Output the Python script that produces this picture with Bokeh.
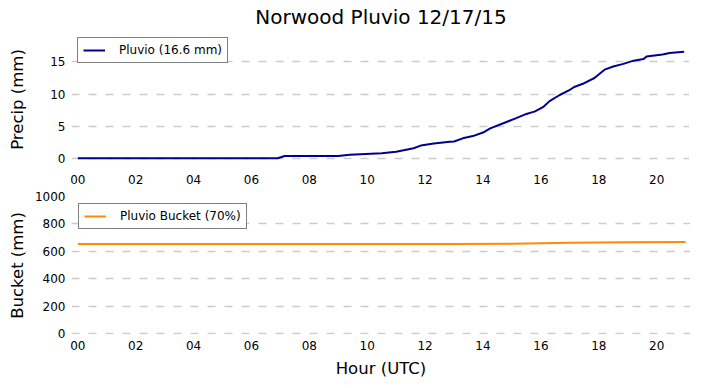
from bokeh.plotting import figure
from bokeh.layouts import column, row
from bokeh.models import FixedTicker, Range1d, Legend, LegendItem, Spacer
from bokeh.embed import file_html
from bokeh.resources import INLINE

# ---- data ----
precip_hours = [0, 6.9, 7.15, 9.0, 9.4, 10.5, 11.0, 11.6, 11.85, 12.3, 12.85, 13.0,
                13.3, 13.65, 14.0, 14.25, 14.7, 15.15, 15.5, 15.8, 16.1, 16.3, 16.65,
                17.0, 17.15, 17.45, 17.85, 18.2, 18.5, 18.85, 19.2, 19.55, 19.65,
                20.2, 20.45, 20.95]
precip_mm = [0, 0, 0.35, 0.35, 0.55, 0.78, 1.0, 1.55, 1.97, 2.3, 2.55, 2.6,
             3.1, 3.45, 4.0, 4.65, 5.45, 6.25, 6.9, 7.3, 8.05, 8.9, 9.85,
             10.65, 11.1, 11.6, 12.5, 13.8, 14.3, 14.7, 15.2, 15.45, 15.85,
             16.15, 16.4, 16.6]
bucket_hours = [0, 13, 15, 17, 19, 21]
bucket_mm = [653, 653, 656, 662, 666, 668]

hour_ticks = [0, 2, 4, 6, 8, 10, 12, 14, 16, 18, 20]
hour_labels = ["00", "02", "04", "06", "08", "10", "12", "14", "16", "18", "20"]
precip_ticks = [0, 5, 10, 15]
bucket_ticks = [0, 200, 400, 600, 800, 1000]
bucket_grid = [0, 200, 400, 600, 800]

title_text = "Norwood Pluvio 12/17/15"
precip_label = "Pluvio (16.6 mm)"
bucket_label = "Pluvio Bucket (70%)"

FONT = "DejaVu Sans"
GRID_COLOR = "#cccccc"


def style(p, yticks, ygrid, ylabel, label_standoff):
    p.outline_line_color = None
    p.xgrid.visible = False
    p.ygrid.ticker = FixedTicker(ticks=ygrid)
    p.ygrid.grid_line_color = GRID_COLOR
    p.ygrid.grid_line_dash = "8 9"
    p.ygrid.grid_line_width = 1.5
    p.xaxis.ticker = FixedTicker(ticks=hour_ticks)
    p.xaxis.major_label_overrides = {t: l for t, l in zip(hour_ticks, hour_labels)}
    p.yaxis.ticker = FixedTicker(ticks=yticks)
    for ax in (p.xaxis[0], p.yaxis[0]):
        ax.axis_line_color = None
        ax.major_tick_line_color = None
        ax.minor_tick_line_color = None
        ax.major_tick_out = 0
        ax.major_tick_in = 0
        ax.minor_tick_out = 0
        ax.major_label_text_font = FONT
        ax.major_label_text_font_size = "12px"
        ax.major_label_text_color = "black"
        ax.axis_label_text_font = FONT
        ax.axis_label_text_font_size = "16.5px"
        ax.axis_label_text_font_style = "normal"
        ax.axis_label_text_color = "black"
    p.xaxis.major_label_standoff = 6
    p.yaxis.major_label_standoff = 6
    p.yaxis.axis_label = ylabel
    p.yaxis.axis_label_standoff = label_standoff


def add_legend(p, renderer, text):
    leg = Legend(items=[LegendItem(label=text, renderers=[renderer])],
                 location="top_left")
    leg.border_line_color = "black"
    leg.border_line_width = 1.2
    leg.background_fill_color = "white"
    leg.background_fill_alpha = 1.0
    leg.label_text_font = FONT
    leg.label_text_font_size = "12px"
    leg.label_text_color = "black"
    leg.padding = 5
    leg.margin = 7
    leg.glyph_width = 22
    leg.glyph_height = 12
    leg.label_height = 12
    leg.label_standoff = 14
    leg.spacing = 0
    p.add_layout(leg, "center")


x_range = Range1d(-0.22, 21.17)

p1 = figure(frame_width=619, frame_height=138, x_range=x_range, y_range=Range1d(-1.6, 19.9),
            output_backend="svg", toolbar_location=None,
            min_border_left=60, min_border_right=0, min_border_top=23, min_border_bottom=19)
p1.title.text = title_text
p1.title.align = "center"
p1.title.text_font = FONT
p1.title.text_font_size = "20px"
p1.title.text_font_style = "normal"
p1.title.text_color = "black"
p1.title.standoff = 4
p1.title.offset = 0
r1 = p1.line(precip_hours, precip_mm, line_color="#00008B", line_width=2)
style(p1, precip_ticks, precip_ticks, "Precip (mm)", 20)
add_legend(p1, r1, precip_label)

p2 = figure(frame_width=619, frame_height=138, x_range=x_range, y_range=Range1d(-6, 1000),
            output_backend="svg", toolbar_location=None,
            min_border_left=60, min_border_right=0, min_border_top=9, min_border_bottom=43)
r2 = p2.line(bucket_hours, bucket_mm, line_color="darkorange", line_width=2)
style(p2, bucket_ticks, bucket_grid, "Bucket (mm)", 5)
p2.xaxis.axis_label = "Hour (UTC)"
p2.xaxis.axis_label_standoff = 6
add_legend(p2, r2, bucket_label)

layout = row(Spacer(width=4, height=10), column(p1, p2))
open("out.html", "w").write(file_html(layout, INLINE))
